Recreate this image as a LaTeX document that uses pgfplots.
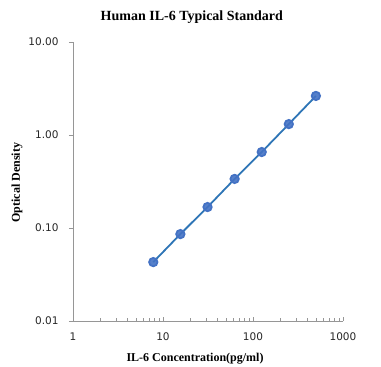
\documentclass[border=0pt]{standalone}
\usepackage{fontspec}
\setmainfont{Liberation Serif}
\newfontfamily\dejavu{DejaVu Sans}
\usepackage{pgfplots}
\pgfplotsset{compat=1.18}
\definecolor{axgray}{RGB}{150,150,150}
\definecolor{lineblue}{RGB}{46,117,182}
\definecolor{markblue}{RGB}{68,114,196}
\begin{document}
\begin{tikzpicture}[x=1pt,y=1pt]
\path[use as bounding box] (0,0) rectangle (381,367);
\begin{axis}[
  at={(73pt,46pt)}, anchor=south west,
  scale only axis, width=270pt, height=279pt,
  xmode=log, ymode=log,
  xmin=1, xmax=1000, ymin=0.01, ymax=10,
  axis x line=bottom, axis y line=left,
  axis line style={-, draw=axgray, line width=0.8pt},
  tick style={draw=axgray, line width=0.7pt},
  tick align=inside,
  major tick length=4pt, minor tick length=3pt,
  every major y tick/.append style={xshift=-4pt},
  yminorticks=false,
  xtick={1,10,100,1000}, xticklabels={1,10,100,1000},
  ytick={0.01,0.1,1,10}, yticklabels={0.01,0.10,1.00,10.00},
  tick label style={font=\dejavu\fontsize{10.5}{12}\selectfont, text=black!85},
  xticklabel style={yshift=-8pt},
  yticklabel style={xshift=-11pt},
  title={\textbf{Human IL-6 Typical Standard}},
  title style={font=\fontsize{14}{16}\selectfont, at={(axis description cs:0.44,1.066)}, anchor=center, yshift=0pt},
  xlabel={\textbf{IL-6 Concentration(pg/ml)}},
  xlabel style={font=\fontsize{12}{14}\selectfont, at={(axis description cs:0.452,-0.136)}, anchor=center, yshift=0pt},
  ylabel={\textbf{Optical Density}},
  ylabel style={font=\fontsize{12}{14}\selectfont, at={(axis description cs:-0.207,0.496)}, anchor=center, rotate=0},
  clip=false,
]
\addplot[lineblue, line width=1.8pt, mark=*, mark size=4.2pt,
  mark options={fill=markblue, draw=markblue, fill opacity=0.9}]
  coordinates {(7.8,0.043) (15.6,0.086) (31.25,0.168) (62.5,0.337) (125,0.656) (250,1.31) (500,2.63)};
\end{axis}
\end{tikzpicture}
\end{document}
